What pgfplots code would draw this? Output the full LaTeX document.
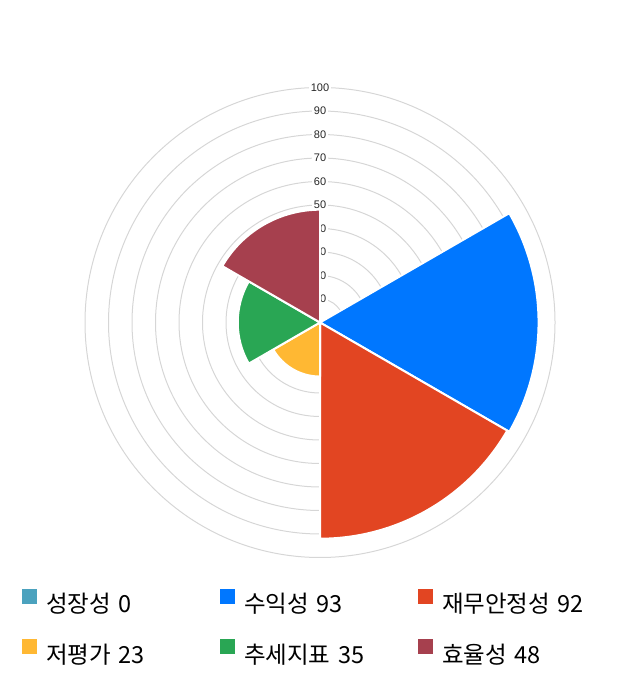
\documentclass[border=0pt]{standalone}
\usepackage{pgfplots}
\pgfplotsset{compat=1.18}
\usepackage{fontspec}
\setmainfont{Liberation Sans}
\newfontfamily\kr{Noto Sans CJK KR}

\definecolor{cGrowth}{HTML}{4BA2BE}
\definecolor{cProfit}{HTML}{0077FF}
\definecolor{cStable}{HTML}{E24522}
\definecolor{cValue}{HTML}{FFB833}
\definecolor{cTrend}{HTML}{29A654}
\definecolor{cEffic}{HTML}{A6404E}
\definecolor{cGrid}{HTML}{D6D6D6}

% a pie slice drawn at the centre; its radius is the mark size
\pgfdeclareplotmark{sector}{%
  \pgfpathmoveto{\pgfpointorigin}%
  \pgfpathlineto{\pgfpointpolar{\secstart}{\pgfplotmarksize}}%
  \pgfpatharc{\secstart}{\secend}{\pgfplotmarksize}%
  \pgfpathclose
  \pgfusepathqfillstroke
}

\pgfplotsset{
  sector/.style={
    scatter, only marks, mark=sector, forget plot,
    scatter/use mapped color={draw=white, fill=#1},
    visualization depends on={2.35*\thisrow{value} \as \rad},
    visualization depends on={value \thisrow{start} \as \secstart},
    visualization depends on={value \thisrow{stop} \as \secend},
    scatter/@pre marker code/.append style={/tikz/mark size=\rad},
    mark options={line width=2pt, line join=round},
  },
  sq legend/.style={legend image code/.code={\fill[##1, draw=none] (0pt,0pt) rectangle (15pt,15pt);}},
}

\begin{document}
\begin{tikzpicture}
\path[use as bounding box] (0,0) rectangle (640pt,700pt);
\begin{axis}[
  at={(320pt,377.5pt)}, anchor=center,
  hide axis, clip=false,
  x=2.35pt, y=2.35pt,
  xmin=-100, xmax=100, ymin=-100, ymax=100,
  legend columns=3,
  legend cell align=left,
  legend style={
    at={(-0.134,-0.067)}, anchor=north west,
    draw=none, fill=none, inner sep=0pt, outer sep=0pt,
    row sep=25pt, column sep=0pt,
    font=\kr\fontsize{23.5}{28}\selectfont,
    nodes={inner sep=0pt, text width=174pt, align=left},
    /tikz/every odd column/.append style={column sep=9pt},
  },
]
% radial grid and its labels
\pgfplotsinvokeforeach{10,20,...,100}{
  \draw[cGrid, line width=1pt] (axis cs:0,0) circle[radius=#1*2.35pt];
  \node[fill=white, inner sep=2pt, text=black!85, font=\fontsize{11}{13}\selectfont]
    at (axis cs:0,#1) {#1};
}

% one slice per indicator, 60 degrees each, clockwise from the top
\addplot[sector=cGrowth] table[row sep=\\] {x y start stop value\\ 0 0 30 90 0\\};
\addplot[sector=cProfit] table[row sep=\\] {x y start stop value\\ 0 0 -30 30 93\\};
\addplot[sector=cStable] table[row sep=\\] {x y start stop value\\ 0 0 -90 -30 92\\};
\addplot[sector=cValue]  table[row sep=\\] {x y start stop value\\ 0 0 -150 -90 23\\};
\addplot[sector=cTrend]  table[row sep=\\] {x y start stop value\\ 0 0 150 210 35\\};
\addplot[sector=cEffic]  table[row sep=\\] {x y start stop value\\ 0 0 90 150 48\\};

\addlegendimage{sq legend, fill=cGrowth}\addlegendentry{성장성 0}
\addlegendimage{sq legend, fill=cProfit}\addlegendentry{수익성 93}
\addlegendimage{sq legend, fill=cStable}\addlegendentry{재무안정성 92}
\addlegendimage{sq legend, fill=cValue}\addlegendentry{저평가 23}
\addlegendimage{sq legend, fill=cTrend}\addlegendentry{추세지표 35}
\addlegendimage{sq legend, fill=cEffic}\addlegendentry{효율성 48}
\end{axis}
\end{tikzpicture}
\end{document}
